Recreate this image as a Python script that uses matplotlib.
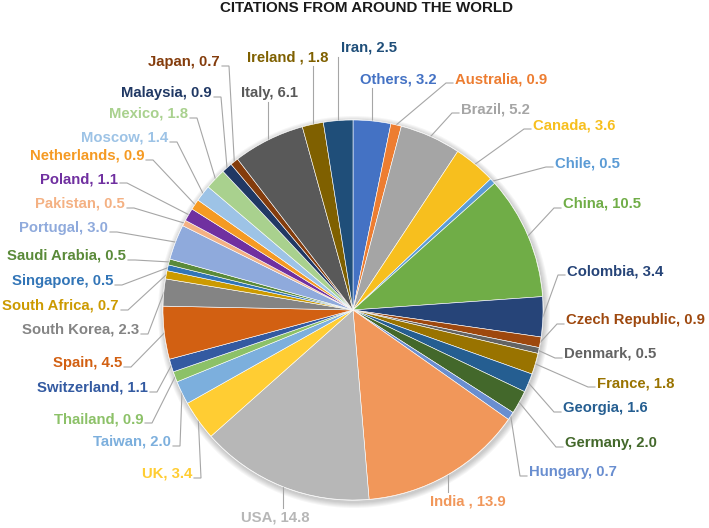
#!/usr/bin/env python3

import numpy as np
import matplotlib.pyplot as plt
from matplotlib.patches import Circle

plt.rcParams['font.family'] = ['Liberation Sans', 'DejaVu Sans']

# Data (share of citations, %)
countries = ['Others', 'Australia', 'Brazil', 'Canada', 'Chile', 'China', 'Colombia',
             'Czech Republic', 'Denmark', 'France', 'Georgia', 'Germany', 'Hungary',
             'India ', 'USA', 'UK', 'Taiwan', 'Thailand', 'Switzerland', 'Spain',
             'South Korea', 'South Africa', 'Singapore', 'Saudi Arabia', 'Portugal',
             'Pakistan', 'Poland', 'Netherlands', 'Moscow', 'Mexico', 'Malaysia',
             'Japan', 'Italy', 'Ireland ', 'Iran']
shares = [3.2, 0.9, 5.2, 3.6, 0.5, 10.5, 3.4,
          0.9, 0.5, 1.8, 1.6, 2.0, 0.7,
          13.9, 14.8, 3.4, 2.0, 0.9, 1.1, 4.5,
          2.3, 0.7, 0.5, 0.5, 3.0,
          0.5, 1.1, 0.9, 1.4, 1.8, 0.9,
          0.7, 6.1, 1.8, 2.5]

# Excel-like palette
colors = ['#4472C4', '#ED7D31', '#A5A5A5', '#F7BF1E', '#5B9BD5', '#70AD47', '#264478',
          '#9E480E', '#636363', '#997300', '#255E91', '#43682B', '#698ED0',
          '#F1975A', '#B7B7B7', '#FFCD33', '#7CAFDD', '#8CC168', '#335AA1', '#D26012',
          '#848484', '#CC9A00', '#3275B7', '#5A8A39', '#8FAADC',
          '#F4B183', '#7030A0', '#F59A23', '#9DC3E6', '#A9D18E', '#203864',
          '#843C0C', '#595959', '#7F6000', '#1F4E79']

# Label layout in pixels: (x of near edge, y centre, side)
# side: 'L' text left of pie, 'R' right of pie, 'U'/'D' text above/below (vertical leader)
label_pos = [(360, 79, 'U'), (455, 79, 'R'), (461, 109, 'R'), (533, 125, 'R'),
             (555, 163, 'R'), (563, 204, 'R'), (567, 271, 'R'), (566, 320, 'R'),
             (564, 354, 'R'), (597, 383, 'R'), (563, 408, 'R'), (565, 443, 'R'),
             (529, 472, 'R'), (430, 502, 'D'), (241, 518, 'D'), (192, 474, 'L'),
             (171, 442, 'L'), (143, 419, 'L'), (148, 388, 'L'), (122, 363, 'L'),
             (139, 330, 'L'), (119, 306, 'L'), (113, 281, 'L'), (126, 256, 'L'),
             (108, 228, 'L'), (125, 204, 'L'), (118, 179, 'L'), (144, 156, 'L'),
             (168, 138, 'L'), (188, 114, 'L'), (212, 93, 'L'), (220, 62, 'L'),
             (241, 93, 'U'), (247, 57, 'U'), (341, 48, 'U')]

W, H = 709, 528
cx, cy, R = 353, H - 310, 190
fs = 10.7

fig = plt.figure(figsize=(W / 100, H / 100), dpi=100)
ax = fig.add_axes([0, 0, 1, 1])

# soft shadow around the pie
for k in range(6):
    ax.add_patch(Circle((cx + 1, cy - 2), R + 1 + k, color='#000000', alpha=0.035, lw=0, zorder=0))
ax.add_patch(Circle((cx, cy), R + 0.5, color='white', lw=0, zorder=0.5))

wedges, _ = ax.pie(shares, colors=colors, startangle=90, counterclock=False,
                   center=(cx, cy), radius=R,
                   wedgeprops=dict(edgecolor='white', linewidth=0.4))

for w, name, val, col, (tx, ty, side) in zip(wedges, countries, shares, colors, label_pos):
    ang = np.deg2rad((w.theta1 + w.theta2) / 2)
    px = cx + R * np.cos(ang)
    py = cy + R * np.sin(ang)
    ty = H - ty
    txt = f'{name}, {val:.1f}'
    if side == 'R':
        xs, ys, ha = [px, tx - 9, tx - 2], [py, ty - 4, ty - 4], 'left'
    elif side == 'L':
        xs, ys, ha = [px, tx + 9, tx + 2], [py, ty - 4, ty - 4], 'right'
    elif side == 'U':
        xs, ys, ha = [px, px], [py, ty - 9], 'left'
    else:
        xs, ys, ha = [px, px], [py, ty + 10], 'left'
    ax.text(tx, ty, txt, ha=ha, va='center', color=col, fontsize=fs, fontweight='bold')
    ax.plot(xs, ys, color='#A6A6A6', lw=0.8, zorder=0.8, solid_joinstyle='miter')

ax.set_xlim(0, W)
ax.set_ylim(0, H)
ax.set_aspect('equal')
ax.axis('off')

fig.text(366 / W, 1 - 8 / H, 'CITATIONS FROM AROUND THE WORLD', ha='center', va='center',
         fontsize=10.9, fontweight='bold', color='#1A1A1A')

plt.savefig('out.png', dpi=100)
